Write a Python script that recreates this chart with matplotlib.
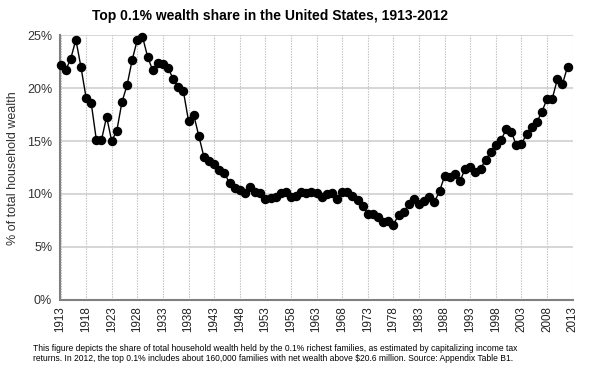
import matplotlib
matplotlib.use("Agg")
import matplotlib.pyplot as plt
from matplotlib.ticker import FuncFormatter

years = list(range(1913, 2013))
share = [22.2, 21.7, 22.8, 24.6, 22.0, 19.1, 18.6, 15.1, 15.1, 17.3,
         15.0, 16.0, 18.7, 20.3, 22.7, 24.6, 24.9, 23.0, 21.7, 22.4,
         22.3, 21.9, 20.9, 20.1, 19.7, 16.9, 17.5, 15.5, 13.5, 13.1,
         12.8, 12.3, 12.0, 11.0, 10.6, 10.4, 10.1, 10.7, 10.2, 10.1,
         9.5, 9.6, 9.75, 10.1, 10.2, 9.7, 9.8, 10.2, 10.1, 10.2,
         10.1, 9.75, 10.0, 10.1, 9.5, 10.2, 10.2, 9.8, 9.4, 8.9,
         8.1, 8.1, 7.8, 7.3, 7.4, 7.1, 8.0, 8.3, 9.0, 9.5,
         9.0, 9.3, 9.75, 9.25, 10.25, 11.7, 11.6, 11.9, 11.2, 12.4,
         12.5, 12.1, 12.4, 13.2, 14.0, 14.6, 15.1, 16.1, 15.9, 14.6,
         14.7, 15.7, 16.35, 16.8, 17.8, 19.0, 19.0, 20.85, 20.4, 22.05]
x_ticks = list(range(1913, 2014, 5))
y_ticks = [0, 5, 10, 15, 20, 25]

title = "Top 0.1% wealth share in the United States, 1913-2012"
ylabel = "% of total household wealth"
note = ("This figure depicts the share of total household wealth held by the 0.1% richest families, as estimated by capitalizing income tax\n"
        "returns. In 2012, the top 0.1% includes about 160,000 families with net wealth above $20.6 million. Source: Appendix Table B1.")

plt.rcParams['font.family'] = ['Liberation Sans', 'DejaVu Sans']

W, H = 590, 372
fig = plt.figure(figsize=(W / 100, H / 100), dpi=100)
left, right, top, bottom = 60.5, 572.7, 35.5, 299.5
ax = fig.add_axes([left / W, 1 - bottom / H, (right - left) / W, (bottom - top) / H])

ax.plot(years, share, color='black', lw=1.0, marker='o', markersize=5.8,
        markerfacecolor='black', markeredgecolor='black', zorder=3, clip_on=False)

ax.set_xlim(1913, 2013)
ax.set_ylim(0, 25)
ax.set_xticks(x_ticks)
ax.set_xticklabels([str(t) for t in x_ticks], rotation=90, fontsize=8.4, color='#222222')
ax.set_yticks(y_ticks)
ax.yaxis.set_major_formatter(FuncFormatter(lambda v, p: f"{int(v)}%"))
ax.tick_params(axis='y', labelsize=9, colors='#333333', length=0, pad=6)
ax.tick_params(axis='x', length=0, pad=5)
for lab in ax.get_yticklabels():
    lab.set_color('#333333')

ax.yaxis.grid(True, color='#cfcfcf', lw=1.2, linestyle='-')
ax.xaxis.grid(True, color='#bdbdbd', lw=0.8, linestyle=(0, (1.2, 1.2)))
ax.set_axisbelow(True)

for s in ['top', 'right']:
    ax.spines[s].set_visible(False)
for s in ['left', 'bottom']:
    ax.spines[s].set_color('#808080')
    ax.spines[s].set_linewidth(1.5)

fig.text(13 / W, 1 - 168 / H, ylabel, rotation=90, ha='center', va='center',
         fontsize=9, color='#333333')
fig.text(269.5 / W, 1 - 16 / H, title, ha='center', va='center',
         fontsize=10.0, fontweight='bold', color='black')
fig.text(33 / W, 1 - 353.5 / H, note, ha='left', va='center',
         fontsize=6.15, color='black', linespacing=1.25)

fig.savefig('out.png', dpi=100)
